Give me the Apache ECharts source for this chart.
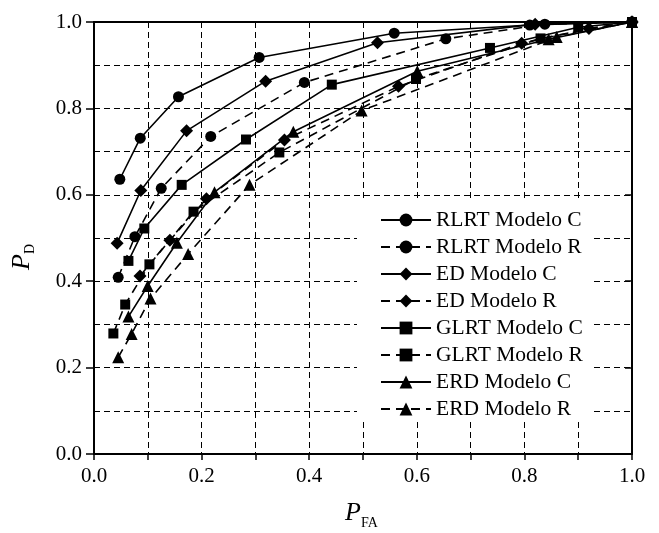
<!DOCTYPE html>
<html>
<head>
<meta charset="utf-8">
<script src="https://cdn.jsdelivr.net/npm/echarts@6/dist/echarts.min.js"></script>
<style>
html,body{margin:0;padding:0;background:#fff;}
#chart{width:659px;height:533px;}
</style>
</head>
<body>
<div id="chart"></div>
<script>
var seriesNames = ['RLRT Modelo C','RLRT Modelo R','ED Modelo C','ED Modelo R','GLRT Modelo C','GLRT Modelo R','ERD Modelo C','ERD Modelo R'];
var rlrtC = [[0.048,0.636],[0.086,0.731],[0.157,0.827],[0.307,0.918],[0.558,0.974],[0.81,0.993],[1,1]];
var rlrtR = [[0.045,0.409],[0.076,0.503],[0.125,0.615],[0.217,0.735],[0.391,0.860],[0.654,0.961],[0.838,0.995],[1,1]];
var edC = [[0.043,0.488],[0.087,0.610],[0.172,0.748],[0.319,0.863],[0.527,0.952],[0.82,0.995],[1,1]];
var edR = [[0.0855,0.412],[0.141,0.495],[0.209,0.591],[0.354,0.727],[0.566,0.851],[0.795,0.951],[0.92,0.985],[1,1]];
var glrtC = [[0.064,0.447],[0.0935,0.522],[0.163,0.623],[0.2825,0.728],[0.442,0.855],[0.736,0.940],[0.90,0.988],[1,1]];
var glrtR = [[0.036,0.279],[0.058,0.346],[0.103,0.439],[0.185,0.561],[0.3445,0.698],[0.5985,0.868],[0.83,0.962],[1,1]];
var erdC = [[0.064,0.318],[0.0998,0.389],[0.154,0.489],[0.224,0.606],[0.3705,0.746],[0.601,0.886],[0.845,0.960],[1,1]];
var erdR = [[0.045,0.224],[0.070,0.278],[0.105,0.360],[0.175,0.463],[0.289,0.623],[0.4975,0.795],[0.86,0.965],[1,1]];
var seriesData = [rlrtC, rlrtR, edC, edR, glrtC, glrtR, erdC, erdR];
var symbols = ['circle','circle','diamond','diamond','rect','rect','triangle','triangle'];
var symbolSizes = [11,11,13,13,10,10,12,12];

var FONT = 'Liberation Serif';
var chart = echarts.init(document.getElementById('chart'));

var series = seriesNames.map(function(n, i){
  var dashed = (i % 2 === 1);
  return {
    name: n,
    type: 'line',
    data: seriesData[i],
    symbol: symbols[i],
    symbolSize: symbolSizes[i],
    showAllSymbol: true,
    smooth: false,
    z: 3,
    lineStyle: {color:'#000', width:1.6, type: dashed ? [9,6] : 'solid'},
    itemStyle: {color:'#000', borderWidth:0},
    emphasis: {disabled:true}
  };
});

var gridStyle = {show:true, lineStyle:{color:'#000', width:1, type:[6,4]}};

var option = {
  backgroundColor:'#fff',
  animation:false,
  grid:{left:94, top:22, width:538, height:432, show:false},
  xAxis:[{
    type:'value', min:0, max:1, interval:0.2, position:'bottom',
    axisLine:{show:true, onZero:false, lineStyle:{color:'#000', width:2}},
    axisTick:{show:true, inside:false, length:6, lineStyle:{color:'#000', width:1.5}},
    minorTick:{show:true, splitNumber:2, length:6, lineStyle:{color:'#000', width:1.5}},
    splitLine:gridStyle,
    minorSplitLine:gridStyle,
    axisLabel:{color:'#000', fontFamily:FONT, fontSize:21, margin:12, formatter:function(v){return v.toFixed(1);}}
  },{
    type:'value', min:0, max:1, interval:0.2, position:'top',
    axisLine:{show:true, onZero:false, lineStyle:{color:'#000', width:2}},
    axisTick:{show:false}, axisLabel:{show:false}, splitLine:{show:false}
  }],
  yAxis:[{
    type:'value', min:0, max:1, interval:0.2, position:'left',
    axisLine:{show:true, onZero:false, lineStyle:{color:'#000', width:2}},
    axisTick:{show:true, inside:false, length:8, lineStyle:{color:'#000', width:1.5}},
    splitLine:gridStyle,
    minorTick:{show:false, splitNumber:2},
    minorSplitLine:gridStyle,
    axisLabel:{color:'#000', fontFamily:FONT, fontSize:21, margin:12, formatter:function(v){return v.toFixed(1);}}
  },{
    type:'value', min:0, max:1, interval:0.2, position:'right',
    axisLine:{show:true, onZero:false, lineStyle:{color:'#000', width:2}},
    axisTick:{show:true, inside:true, length:7, lineStyle:{color:'#000', width:1.5}},
    axisLabel:{show:false}, splitLine:{show:false}
  }],
  legend:{
    orient:'vertical', left:357, top:200,
    backgroundColor:'#fff',
    padding:[9,11,0,23],
    itemWidth:50, itemHeight:16, itemGap:5,
    data:seriesNames,
    textStyle:{color:'#000', fontFamily:FONT, fontSize:21.5, lineHeight:21},
    selectedMode:false
  },
  graphic:[{
    type:'group', x:0, y:0, z:10,
    children:[
      {type:'text', x:353, y:513, style:{text:'P', fontFamily:FONT, fontStyle:'italic', fontSize:26, fill:'#000', align:'center', verticalAlign:'middle'}},
      {type:'text', x:361, y:523, style:{text:'FA', fontFamily:FONT, fontSize:14, fill:'#000', align:'left', verticalAlign:'middle'}}
    ]
  },{
    type:'group', x:22, y:257, rotation:Math.PI/2, z:10,
    children:[
      {type:'text', x:-5, y:0, style:{text:'P', fontFamily:FONT, fontStyle:'italic', fontSize:26, fill:'#000', align:'center', verticalAlign:'middle'}},
      {type:'text', x:3, y:8, style:{text:'D', fontFamily:FONT, fontSize:14, fill:'#000', align:'left', verticalAlign:'middle'}}
    ]
  }],
  series: series
};
chart.setOption(option);
</script>
</body>
</html>
